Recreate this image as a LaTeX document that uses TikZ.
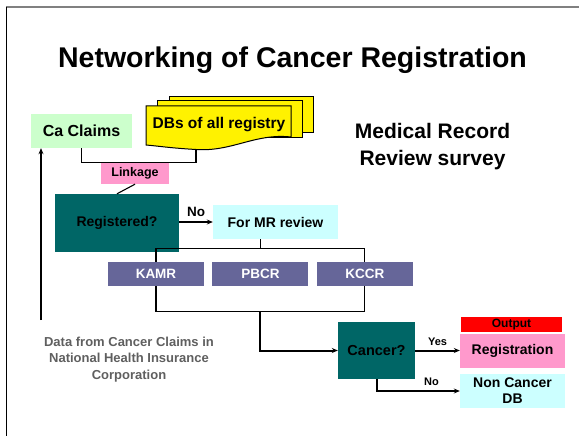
\documentclass[tikz,border=0pt]{standalone}
\usepackage{fontspec}
\setmainfont{Liberation Sans}
\usepackage{tikz}
\usetikzlibrary{arrows.meta,positioning}
\definecolor{claimgreen}{HTML}{CCFFCC}
\definecolor{linkpink}{HTML}{FF99CC}
\definecolor{decteal}{HTML}{006666}
\definecolor{reviewcyan}{HTML}{CCFFFF}
\definecolor{hospblue}{HTML}{666699}
\definecolor{notegray}{HTML}{5F5F5F}

\begin{document}
\begin{tikzpicture}[
  x=1pt, y=-1pt,
  box/.style={inner sep=0pt, align=center},
  decision/.style={box, fill=decteal, text=black},
  hosp/.style={box, fill=hospblue, text=white, minimum width=96pt, minimum height=24pt, font=\fontsize{13.5}{16}\selectfont\bfseries},
  doc/.style={fill=yellow, draw=black, line width=1pt},
  arrow/.style={-{Stealth[length=6pt,width=5pt]}, line width=2pt},
  thin/.style={line width=1.1pt}
]
\useasboundingbox (0,0) rectangle (579,436);
% frame
\draw[gray, line width=2pt] (6,7.5) -- (579,7.5);
\draw[black, line width=0.8pt] (6.5,7) -- (6.5,436);

\node[font=\fontsize{28.5}{34}\selectfont\bfseries] (title) at (292.5,60) {Networking of Cancer Registration};

% sources
\node[box, fill=claimgreen, minimum width=101pt, minimum height=34pt, font=\fontsize{16}{19}\selectfont\bfseries] (claims) at (81.5,131) {Ca Claims};
\filldraw[doc] (169,97) rectangle (313,133);
\filldraw[doc] (157,101) rectangle (302,137);
\filldraw[doc] (146,106) -- (291,106) -- (291,137) .. controls (255,133) and (232,152) .. (196,149.5) .. controls (170,148) and (158,146) .. (146,145) -- cycle;
\coordinate (dbfoot) at (196,149.5);
\node[font=\fontsize{15.5}{18}\selectfont\bfseries] (dbs) at (219,125) {DBs of all registry};

\node[align=center, font=\fontsize{21}{27}\selectfont\bfseries] (survey) at (432.5,146.5) {Medical Record\\Review survey};

\node[box, fill=linkpink, minimum width=68pt, minimum height=21pt, font=\fontsize{12.5}{15}\selectfont\bfseries] (link) at (135,173.5) {Linkage};
\draw[thin] (claims.south) -- ++(0,14) -| (dbfoot);

% review
\node[decision, minimum width=124pt, minimum height=58pt, font=\fontsize{14}{17}\selectfont\bfseries] (reg) at (117,223) {Registered?};
\node[box, fill=reviewcyan, minimum width=125pt, minimum height=34pt, font=\fontsize{14}{17}\selectfont\bfseries] (mr) at (275.5,222) {For MR review};
\draw[thin] (link.south) -- (reg.north);
\draw[arrow] (reg.east |- mr.west) -- node[above=1pt, font=\fontsize{13.5}{16}\selectfont\bfseries] {No} (mr.west);

\node[hosp] (kamr) at (156,274) {KAMR};
\node[hosp, right=8pt of kamr] (pbcr) {PBCR};
\node[hosp, right=8pt of pbcr] (kccr) {KCCR};
\coordinate (split) at (pbcr.north |- mr.south);
\draw[thin] (split) -- ++(0,9) coordinate (fork);
\draw[thin] (kamr.north) |- (fork) -| (kccr.north);
\draw[thin] (kamr.south) -- ++(0,25) coordinate (kbot) -| (kccr.south);

% result
\node[decision, minimum width=77pt, minimum height=57pt, font=\fontsize{14.5}{17}\selectfont\bfseries] (cancer) at (376.5,350.5) {Cancer?};
\node[box, fill=linkpink, minimum width=105pt, minimum height=34pt, font=\fontsize{14}{17}\selectfont\bfseries] (registration) at (512.5,351) {Registration};
\node[box, fill=red, minimum width=101pt, minimum height=15pt, font=\fontsize{12}{14}\selectfont\bfseries] (output) at (511.5,324.5) {Output};
\node[box, fill=reviewcyan, minimum width=105pt, minimum height=34pt, font=\fontsize{14}{16}\selectfont\bfseries] (noncancer) at (512.5,391) {Non Cancer\\DB};
\draw[arrow] (kbot -| pbcr) |- (cancer.west);
\draw[arrow] (cancer.east) -- node[above=1pt, font=\fontsize{11}{13}\selectfont\bfseries] {Yes} (cancer.east -| registration.west);
\draw[arrow] (cancer.south) |- node[pos=0.83, above=1pt, font=\fontsize{11}{13}\selectfont\bfseries] {No} (noncancer.west);

% claims data
\node[align=center, text=notegray, font=\fontsize{13}{16.5}\selectfont\bfseries] (nhic) at (129,359.5) {Data from Cancer Claims in\\National Health Insurance\\Corporation};
\coordinate (src) at (41,320);
\draw[arrow] (src) -- (src |- claims.south);
\end{tikzpicture}
\end{document}
